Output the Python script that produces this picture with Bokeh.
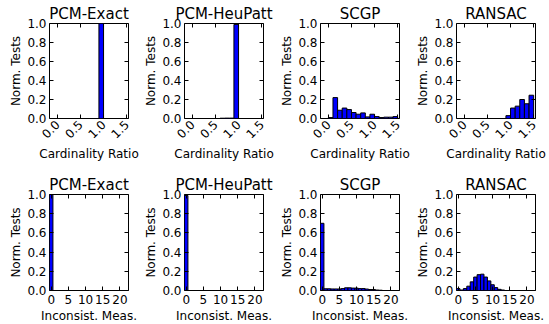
import math
from bokeh.plotting import figure
from bokeh.layouts import column, row
from bokeh.models import Range1d, FixedTicker, PrintfTickFormatter, LinearAxis
from bokeh.embed import file_html
from bokeh.resources import INLINE

methods = ["PCM-Exact", "PCM-HeuPatt", "SCGP", "RANSAC"]

# Cardinality ratio histograms: bins of width 0.1 from 0.0 to 1.5
card_edges = [round(0.1 * i, 1) for i in range(16)]
card_exact = [0, 0, 0, 0, 0, 0, 0, 0, 0, 1.0, 0, 0, 0, 0, 0]
card_heupatt = [0, 0, 0, 0, 0, 0, 0.003, 0.004, 0.004, 0.99, 0, 0, 0, 0, 0]
card_scgp = [0.01, 0.22, 0.087, 0.11, 0.094, 0.063, 0.045, 0.059, 0.017, 0.045, 0.02, 0.01, 0.014, 0.014, 0.02]
card_ransac = [0, 0, 0, 0, 0, 0, 0, 0, 0, 0.03, 0.11, 0.13, 0.20, 0.155, 0.245]

# Inconsistent measurements histograms: integer bins 0..22
incons_bins = list(range(23))
incons_exact = [1.0] + [0] * 22
incons_heupatt = [0.99] + [0] * 22
incons_scgp = [0.70, 0.018, 0.018, 0.016, 0.016, 0.016, 0.02, 0.028, 0.028, 0.025, 0.025, 0.02,
               0.02, 0.015, 0.01, 0.01, 0.005, 0.003, 0, 0, 0, 0, 0]
incons_ransac = [0.02, 0.005, 0.02, 0.045, 0.09, 0.14, 0.165, 0.17, 0.14, 0.10, 0.06, 0.03,
                 0.012, 0.005, 0, 0, 0, 0, 0, 0, 0, 0, 0]

y_ticks = [0.0, 0.2, 0.4, 0.6, 0.8, 1.0]
card_ticks = [0.0, 0.5, 1.0, 1.5]
incons_ticks = [0, 5, 10, 15, 20]

FONT = "DejaVu Sans"
lefts = [49, 45, 45, 45]
rights = [11, 12, 12, 14]
FW = 79


def style(p, xticks, xfmt, xlabel, rotate):
    p.background_fill_color = "white"
    p.border_fill_color = "white"
    p.outline_line_color = "black"
    p.outline_line_width = 1
    p.outline_line_alpha = 1
    p.xgrid.visible = False
    p.ygrid.visible = False
    p.title.text_font = FONT
    p.title.text_font_size = "15px"
    p.title.text_font_style = "normal"
    p.title.text_color = "black"
    p.title.align = "center"
    p.title.standoff = 2
    p.title.offset = 0
    for ax in (p.xaxis[0], p.yaxis[0]):
        ax.major_tick_in = 4
        ax.major_tick_out = 0
        ax.minor_tick_line_color = None
        ax.axis_line_color = None
        ax.major_tick_line_color = "black"
        ax.major_label_text_font = FONT
        ax.major_label_text_font_size = "12px"
        ax.major_label_text_color = "black"
        ax.axis_label_text_font = FONT
        ax.axis_label_text_font_size = "12px"
        ax.axis_label_text_font_style = "normal"
        ax.axis_label_text_color = "black"
        ax.major_label_standoff = 4
    p.yaxis[0].ticker = FixedTicker(ticks=y_ticks)
    p.yaxis[0].formatter = PrintfTickFormatter(format="%.1f")
    p.yaxis[0].axis_label = "Norm. Tests"
    p.yaxis[0].axis_label_standoff = 1
    p.yaxis[0].major_label_standoff = 3
    p.xaxis[0].ticker = FixedTicker(ticks=xticks)
    p.xaxis[0].formatter = PrintfTickFormatter(format=xfmt)
    p.xaxis[0].axis_label = xlabel
    p.xaxis[0].axis_label_standoff = 2
    if rotate:
        p.xaxis[0].major_label_orientation = math.pi / 4
    # mirrored ticks on top and right (no labels)
    for loc, tk in (("above", xticks), ("right", y_ticks)):
        ax = LinearAxis(ticker=FixedTicker(ticks=tk), major_label_text_font_size="1px",
                        major_label_text_color=None, major_tick_in=4, major_tick_out=0,
                        minor_tick_line_color=None, axis_line_color=None,
                        major_tick_line_color="black", major_label_standoff=0)
        p.add_layout(ax, loc)


top_row = []
for i, (name, vals) in enumerate(zip(methods, [card_exact, card_heupatt, card_scgp, card_ransac])):
    p = figure(frame_width=FW, frame_height=95, title=name, output_backend="svg", toolbar_location=None,
               x_range=Range1d(-0.17, 1.54), y_range=Range1d(0, 1.0),
               min_border_left=lefts[i], min_border_right=rights[i], min_border_top=23, min_border_bottom=44)
    p.quad(left=card_edges[:-1], right=card_edges[1:], bottom=0, top=vals,
           fill_color="#0000ff", line_color="black", line_width=1)
    style(p, card_ticks, "%.1f", "Cardinality Ratio", True)
    top_row.append(p)

bottom_row = []
for i, (name, vals) in enumerate(zip(methods, [incons_exact, incons_heupatt, incons_scgp, incons_ransac])):
    p = figure(frame_width=FW, frame_height=96, title=name, output_backend="svg", toolbar_location=None,
               x_range=Range1d(-0.5, 22.5), y_range=Range1d(0, 1.0),
               min_border_left=lefts[i], min_border_right=rights[i], min_border_top=30, min_border_bottom=36)
    p.quad(left=[b - 0.5 for b in incons_bins], right=[b + 0.5 for b in incons_bins], bottom=0, top=vals,
           fill_color="#0000ff", line_color="black", line_width=1)
    style(p, incons_ticks, "%d", "Inconsist. Meas.", False)
    bottom_row.append(p)

layout = column(row(*top_row, spacing=0), row(*bottom_row, spacing=0), spacing=0)
open("out.html", "w").write(file_html(layout, INLINE))
